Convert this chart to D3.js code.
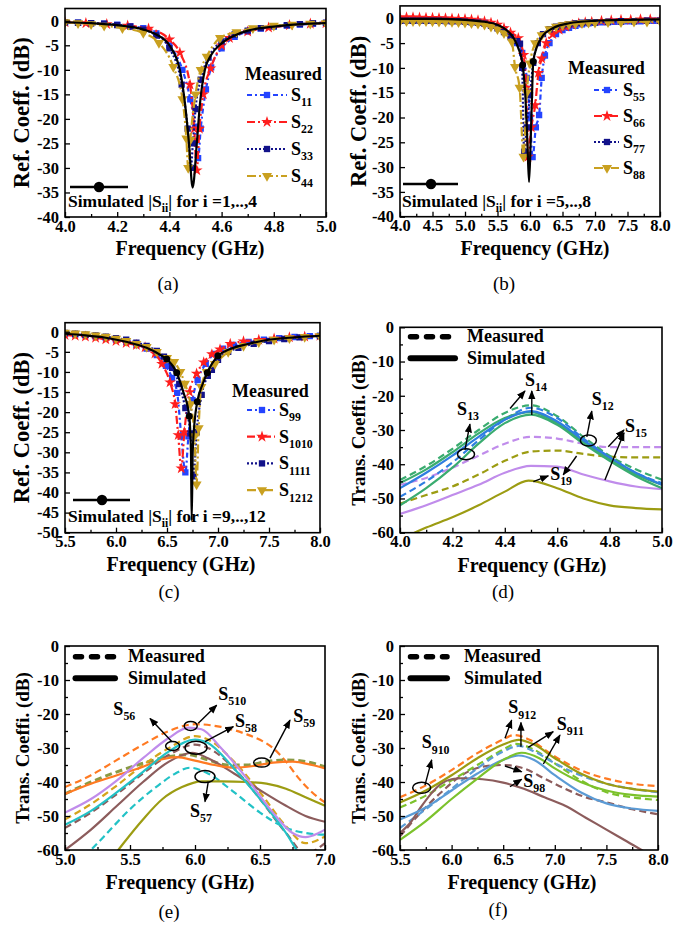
<!DOCTYPE html>
<html>
<head>
<meta charset="utf-8">
<script src="https://cdn.jsdelivr.net/npm/d3@7"></script>
<style>
  body { margin: 0; background: #fff; }
</style>
</head>
<body>
<svg id="chart" width="673" height="927"></svg>
<script>
// ---------- tick labels ----------
const aXTicks = [4.0, 4.2, 4.4, 4.6, 4.8, 5.0];
const rYTicks = [0, -5, -10, -15, -20, -25, -30, -35, -40];
const bXTicks = [4.0, 4.5, 5.0, 5.5, 6.0, 6.5, 7.0, 7.5, 8.0];
const cXTicks = [5.5, 6.0, 6.5, 7.0, 7.5, 8.0];
const cYTicks = [0, -5, -10, -15, -20, -25, -30, -35, -40, -45, -50];
const tYTicks = [0, -10, -20, -30, -40, -50, -60];
const eXTicks = [5.0, 5.5, 6.0, 6.5, 7.0];

// ---------- (a) reflection 1..4 ----------
const aSim = [[4.0,-0.3],[4.1,-0.5],[4.2,-0.9],[4.3,-1.8],[4.35,-2.8],[4.4,-5],[4.44,-10],[4.46,-17],[4.475,-25],[4.489,-34],[4.505,-25],[4.517,-17],[4.536,-10],[4.56,-7],[4.6,-4.6],[4.65,-3],[4.7,-2],[4.8,-1.2],[4.9,-0.7],[5.0,-0.5]];
const aS11 = [[4.0,-0.3],[4.05,-0.4],[4.1,-0.5],[4.15,-0.6],[4.2,-0.8],[4.25,-1.1],[4.3,-1.5],[4.35,-2.6],[4.4,-5],[4.45,-10],[4.48,-16],[4.498,-21.6],[4.51,-28],[4.52,-22],[4.54,-14],[4.56,-9.5],[4.6,-5.6],[4.65,-3.3],[4.7,-2.2],[4.75,-1.6],[4.8,-1.2],[4.85,-1],[4.9,-0.8],[4.95,-0.6],[5.0,-0.5]];
const aS22 = [[4.0,-0.3],[4.08,-0.5],[4.16,-0.7],[4.24,-1.0],[4.32,-1.6],[4.4,-3.8],[4.44,-6.5],[4.479,-13],[4.495,-22],[4.505,-30.5],[4.515,-22],[4.53,-15],[4.558,-9.7],[4.6,-5],[4.63,-3.5],[4.7,-2.2],[4.78,-1.4],[4.86,-0.9],[4.94,-0.6],[5.0,-0.5]];
const aS33 = [[4.0,-0.3],[4.05,-0.4],[4.1,-0.5],[4.15,-0.6],[4.2,-0.9],[4.25,-1.2],[4.3,-1.8],[4.35,-3],[4.4,-5.6],[4.447,-13],[4.47,-22],[4.482,-30],[4.49,-25],[4.5,-18],[4.52,-12],[4.55,-7.5],[4.6,-4.2],[4.65,-2.8],[4.7,-2],[4.75,-1.5],[4.8,-1.1],[4.85,-0.9],[4.9,-0.7],[4.95,-0.5],[5.0,-0.4]];
const aS44 = [[4.0,-0.3],[4.05,-0.5],[4.1,-0.7],[4.15,-1],[4.22,-1.5],[4.3,-2.5],[4.36,-4.5],[4.415,-9.4],[4.45,-16],[4.465,-24],[4.472,-30],[4.48,-24.3],[4.5,-15],[4.52,-10],[4.543,-7.3],[4.594,-3.5],[4.657,-2.3],[4.72,-1.5],[4.8,-1],[4.87,-0.8],[4.94,-0.6],[5.0,-0.5]];

// ---------- (b) reflection 5..8 ----------
const bSim = [[4.0,-0.1],[4.5,-0.1],[5.0,-0.3],[5.3,-0.7],[5.5,-1.3],[5.65,-2.5],[5.75,-4],[5.82,-6],[5.887,-9.4],[5.93,-16],[5.96,-25],[5.985,-33],[6.01,-25],[6.03,-16],[6.05,-8.7],[6.1,-6],[6.2,-3.5],[6.35,-2],[6.6,-1],[7.0,-0.5],[7.5,-0.3],[8.0,-0.2]];
const bSimMarks = [[5.887,-9.4],[6.05,-8.7]];
const bS55 = [[4.0,-0.3],[4.1,-0.3],[4.2,-0.3],[4.3,-0.3],[4.4,-0.3],[4.5,-0.3],[4.6,-0.3],[4.7,-0.35],[4.8,-0.4],[4.9,-0.4],[5.0,-0.5],[5.1,-0.6],[5.2,-0.7],[5.3,-0.9],[5.4,-1.2],[5.5,-1.6],[5.6,-2.2],[5.7,-3.2],[5.8,-5],[5.88,-7],[5.95,-12],[6.0,-20],[6.04,-28],[6.09,-22],[6.14,-19.5],[6.18,-12],[6.23,-7.5],[6.3,-5],[6.4,-3.2],[6.5,-2.4],[6.6,-1.9],[6.7,-1.5],[6.8,-1.2],[6.9,-1],[7.0,-0.9],[7.1,-0.8],[7.2,-0.8],[7.3,-0.7],[7.4,-0.7],[7.5,-0.6],[7.6,-0.6],[7.7,-0.6],[7.8,-0.5],[7.9,-0.5],[8.0,-0.5]];
const bS66 = [[4.0,0.2],[4.1,0.2],[4.2,0.2],[4.3,0.15],[4.4,0.1],[4.5,0.1],[4.6,0.05],[4.7,0],[4.8,-0.05],[4.9,-0.1],[5.0,-0.15],[5.1,-0.25],[5.2,-0.4],[5.3,-0.6],[5.4,-0.9],[5.5,-1.3],[5.6,-2],[5.7,-2.9],[5.82,-4],[5.9,-7.4],[5.94,-14],[5.97,-27.9],[6.02,-22],[6.08,-17.5],[6.13,-11],[6.18,-8.1],[6.25,-5],[6.35,-3.2],[6.45,-2.3],[6.55,-1.7],[6.65,-1.3],[6.75,-1],[6.85,-0.8],[6.95,-0.7],[7.1,-0.5],[7.25,-0.4],[7.4,-0.3],[7.55,-0.3],[7.7,-0.2],[7.85,-0.2],[8.0,-0.2]];
const bS77 = [[4.0,-0.5],[4.1,-0.5],[4.2,-0.5],[4.3,-0.5],[4.4,-0.5],[4.5,-0.5],[4.6,-0.5],[4.7,-0.55],[4.8,-0.6],[4.9,-0.6],[5.0,-0.7],[5.1,-0.8],[5.2,-0.9],[5.3,-1.1],[5.4,-1.5],[5.5,-2],[5.6,-2.8],[5.7,-3.8],[5.8,-4.6],[5.846,-5.1],[5.88,-10],[5.91,-26.9],[5.95,-22],[6.0,-15.5],[6.05,-9],[6.12,-5],[6.2,-3.2],[6.3,-2.2],[6.4,-1.7],[6.5,-1.4],[6.6,-1.2],[6.7,-1],[6.8,-0.9],[6.9,-0.8],[7.0,-0.8],[7.2,-0.7],[7.4,-0.6],[7.6,-0.6],[7.8,-0.5],[8.0,-0.5]];
const bS88 = [[4.0,-0.6],[4.1,-0.6],[4.2,-0.6],[4.3,-0.6],[4.4,-0.6],[4.5,-0.65],[4.6,-0.7],[4.7,-0.7],[4.8,-0.75],[4.9,-0.8],[5.0,-0.9],[5.1,-1],[5.2,-1.1],[5.3,-1.3],[5.4,-1.7],[5.5,-2.2],[5.6,-3],[5.72,-4.7],[5.77,-9.8],[5.84,-14],[5.9,-27.9],[5.95,-15],[6.0,-9.1],[6.08,-5],[6.18,-3.4],[6.3,-2.2],[6.4,-1.7],[6.5,-1.4],[6.6,-1.2],[6.7,-1.1],[6.8,-1],[6.9,-0.9],[7.0,-0.9],[7.2,-0.8],[7.4,-0.8],[7.6,-0.7],[7.8,-0.7],[8.0,-0.6]];

// ---------- (c) reflection 9..12 ----------
const cSim = [[5.5,-0.5],[5.7,-0.9],[5.9,-1.5],[6.1,-2.5],[6.3,-4],[6.45,-6],[6.497,-6.8],[6.595,-10.2],[6.66,-15],[6.718,-21],[6.735,-30],[6.742,-47],[6.752,-30],[6.772,-22],[6.797,-17.4],[6.85,-13],[6.895,-10.2],[7.0,-6],[7.1,-4.5],[7.3,-3],[7.5,-2],[7.75,-1.4],[8.0,-1]];
const cSimMarks = [[6.497,-6.8],[6.595,-10.2],[6.718,-21],[6.797,-17.4],[6.895,-10.2],[7.0,-6]];
const cS99 = [[5.5,-0.5],[5.6,-0.7],[5.7,-0.9],[5.8,-1.2],[5.9,-1.6],[6.0,-2],[6.1,-2.6],[6.2,-3.3],[6.3,-4.2],[6.4,-5.8],[6.49,-8.5],[6.55,-11.5],[6.6,-15.2],[6.64,-26],[6.68,-35],[6.71,-26],[6.75,-17],[6.8,-12],[6.88,-8],[6.96,-5.5],[7.05,-4.2],[7.15,-3.3],[7.3,-2.5],[7.45,-2],[7.6,-1.6],[7.75,-1.3],[7.9,-1.1],[8.0,-1]];
const cS1010 = [[5.5,-0.8],[5.6,-1],[5.7,-1.2],[5.8,-1.5],[5.9,-1.9],[6.0,-2.3],[6.1,-2.8],[6.2,-3.3],[6.285,-3.9],[6.382,-5.4],[6.45,-8],[6.53,-12.6],[6.58,-18],[6.61,-25.7],[6.64,-34],[6.67,-25],[6.72,-15],[6.79,-10.4],[6.86,-7.6],[6.94,-5.6],[7.02,-4.4],[7.12,-3],[7.25,-2.4],[7.4,-2],[7.55,-1.7],[7.7,-1.4],[7.85,-1.2],[8.0,-1]];
const cS1111 = [[5.5,-0.3],[5.6,-0.5],[5.7,-0.7],[5.8,-0.9],[5.9,-1.2],[6.0,-1.6],[6.1,-2],[6.2,-2.7],[6.3,-3.5],[6.4,-4.8],[6.47,-6.2],[6.55,-9],[6.62,-13],[6.68,-19],[6.73,-25.3],[6.76,-36],[6.79,-25],[6.84,-15.7],[6.9,-11],[6.94,-9.5],[7.0,-7],[7.1,-5],[7.2,-4],[7.35,-3],[7.5,-2.3],[7.65,-1.8],[7.8,-1.4],[8.0,-1.1]];
const cS1212 = [[5.5,-0.2],[5.6,-0.4],[5.7,-0.6],[5.8,-0.9],[5.9,-1.2],[6.0,-1.7],[6.1,-2.3],[6.2,-3],[6.3,-3.8],[6.4,-5],[6.5,-6.5],[6.57,-7.5],[6.63,-10],[6.676,-12.9],[6.73,-18],[6.77,-26],[6.79,-38],[6.81,-24],[6.836,-13.7],[6.89,-10],[6.97,-8],[7.1,-5],[7.25,-3.5],[7.4,-2.6],[7.55,-2],[7.7,-1.6],[7.85,-1.3],[8.0,-1.1]];

// ---------- (d) transmission from port 1 ----------
const dS14m = [[4.0,-44.6],[4.1,-40.5],[4.2,-35.5],[4.3,-30],[4.4,-25],[4.5,-22.8],[4.6,-26],[4.7,-32],[4.8,-37.5],[4.9,-41.5],[5.0,-44.5]];
const dS12m = [[4.0,-49.5],[4.1,-45],[4.2,-39.5],[4.3,-33],[4.4,-27],[4.5,-23.5],[4.6,-26.5],[4.7,-32.5],[4.8,-38],[4.9,-42.5],[5.0,-45.5]];
const dS14s = [[4.0,-45.5],[4.1,-41.5],[4.2,-36.5],[4.3,-31],[4.4,-26.5],[4.5,-24.8],[4.6,-28],[4.7,-33.5],[4.8,-38.5],[4.9,-43],[5.0,-46]];
const dS12s = [[4.0,-47],[4.1,-42.5],[4.2,-37.5],[4.3,-32],[4.4,-27],[4.5,-24.5],[4.6,-27.5],[4.7,-33],[4.8,-38],[4.9,-42.5],[5.0,-46]];
const dS13s = [[4.0,-52],[4.1,-47],[4.2,-41],[4.3,-34],[4.4,-28],[4.5,-25.5],[4.6,-28.5],[4.7,-34],[4.8,-39],[4.9,-43.5],[5.0,-47]];
const dS15m = [[4.0,-46],[4.1,-44],[4.2,-41],[4.3,-37.5],[4.4,-34],[4.5,-32],[4.6,-32.5],[4.7,-34],[4.8,-35],[4.9,-35],[5.0,-35]];
const dS19m = [[4.0,-51.5],[4.1,-49],[4.2,-46.5],[4.3,-43],[4.4,-39],[4.5,-36.3],[4.6,-36],[4.7,-37],[4.8,-37.8],[4.9,-38],[5.0,-38]];
const dS15s = [[4.0,-54.5],[4.1,-52],[4.2,-49],[4.3,-46],[4.4,-42.5],[4.5,-40.5],[4.6,-40.7],[4.7,-43],[4.8,-45],[4.9,-46.5],[5.0,-47.3]];
const dS19s = [[4.0,-62],[4.1,-58.5],[4.2,-55.5],[4.3,-52],[4.4,-48],[4.49,-44.8],[4.6,-47],[4.7,-50],[4.8,-52],[4.9,-52.8],[5.0,-53.2]];

// ---------- (e) transmission from port 5 ----------
const eS510m = [[5.0,-41.5],[5.2,-38],[5.4,-33.5],[5.6,-29],[5.8,-25],[6.0,-23],[6.2,-23.8],[6.4,-26],[6.5,-27.6],[6.6,-30],[6.7,-34],[6.8,-39],[6.9,-43],[7.0,-46]];
const eS510s = [[5.0,-49],[5.2,-45],[5.4,-39.5],[5.6,-33],[5.8,-27],[5.95,-24],[6.05,-24.5],[6.2,-30],[6.4,-39],[6.6,-49],[6.75,-55],[6.85,-56.2],[6.95,-55],[7.0,-54]];
const eS58s = [[5.0,-52.6],[5.2,-48.5],[5.4,-43],[5.6,-37],[5.8,-31],[6.0,-27.5],[6.1,-28.5],[6.3,-36],[6.5,-45],[6.7,-55],[6.8,-61],[6.9,-65]];
const eS58m = [[5.0,-51],[5.2,-46.5],[5.4,-41],[5.6,-35],[5.8,-30],[6.0,-26.5],[6.1,-27.5],[6.3,-34],[6.5,-43],[6.7,-53],[6.85,-58],[7.0,-56]];
const eS56m = [[5.0,-53.5],[5.2,-49],[5.4,-43.5],[5.6,-37.5],[5.8,-32],[6.0,-29],[6.1,-30],[6.3,-36],[6.5,-45],[6.7,-55],[6.85,-61],[7.0,-58]];
const eS56s = [[5.0,-60],[5.2,-54],[5.4,-47],[5.6,-40],[5.8,-34],[5.98,-31.4],[6.1,-33],[6.3,-37.5],[6.5,-42.4],[6.7,-47],[6.85,-50],[7.0,-51.7]];
const eS59m = [[5.0,-43.5],[5.2,-40],[5.4,-37],[5.6,-34.5],[5.8,-32.5],[5.95,-32],[6.1,-33.5],[6.25,-35],[6.4,-35],[6.55,-34],[6.7,-33.5],[6.85,-34],[7.0,-35.5]];
const eS59s = [[5.0,-43.5],[5.2,-40.5],[5.4,-38],[5.6,-35.5],[5.75,-33.3],[5.86,-32.7],[6.0,-33.7],[6.15,-35],[6.3,-35.8],[6.45,-35.3],[6.6,-34.3],[6.75,-34],[6.9,-35],[7.0,-36]];
const eS57m = [[5.15,-62],[5.3,-56],[5.5,-48],[5.7,-41.5],[5.85,-37.5],[5.96,-35.8],[6.1,-37.5],[6.3,-43],[6.5,-49],[6.7,-53.5],[6.85,-55],[7.0,-55.5]];
const eS57s = [[5.35,-63],[5.45,-58],[5.6,-51],[5.75,-45],[5.9,-41.5],[6.05,-39.8],[6.2,-39.8],[6.4,-40],[6.55,-40.5],[6.7,-42],[6.85,-44.5],[7.0,-47]];

// ---------- (f) transmission from port 9 ----------
const fS910m = [[5.5,-44.5],[5.75,-41],[6.0,-36.5],[6.25,-31.5],[6.5,-27.5],[6.6,-26.2],[6.75,-27.5],[7.0,-32.5],[7.25,-36.5],[7.5,-39],[7.75,-40.5],[8.0,-41.2]];
const fS910s = [[5.5,-46],[5.75,-42.5],[6.0,-38],[6.25,-33],[6.5,-29],[6.65,-27.6],[6.8,-29],[7.0,-33],[7.25,-37.5],[7.5,-40.5],[7.75,-42],[8.0,-42.8]];
const fS911m = [[5.5,-47.5],[5.75,-44],[6.0,-39.5],[6.25,-35],[6.5,-30.5],[6.62,-28.8],[6.8,-30.5],[7.0,-34.5],[7.25,-39.5],[7.5,-43],[7.75,-44.5],[8.0,-45.3]];
const fS912m = [[5.5,-53.5],[5.75,-48],[6.0,-42],[6.25,-36],[6.5,-31],[6.65,-29.4],[6.8,-31],[7.0,-34.5],[7.25,-38],[7.5,-40.5],[7.75,-42],[8.0,-43]];
const fS911s = [[5.5,-57],[5.75,-51.5],[6.0,-45],[6.25,-39],[6.5,-33.5],[6.68,-31.4],[6.85,-33],[7.0,-36],[7.25,-40],[7.5,-42.5],[7.75,-43.8],[8.0,-44.3]];
const fS912s = [[5.5,-51],[5.75,-47.5],[6.0,-42.5],[6.25,-37.5],[6.5,-33.5],[6.65,-32.2],[6.8,-33.5],[7.0,-38],[7.25,-43],[7.5,-46.3],[7.75,-47.8],[8.0,-48.5]];
const fS98m = [[5.5,-56],[5.7,-49],[5.9,-43],[6.1,-38],[6.3,-35.5],[6.5,-35],[6.7,-36],[6.9,-39],[7.1,-42],[7.3,-44.5],[7.5,-46],[7.75,-48],[8.0,-49.5]];
const fS98s = [[5.5,-55],[5.6,-52],[5.7,-47.5],[5.8,-43.5],[5.9,-40.5],[6.0,-39.2],[6.1,-38.9],[6.3,-39.2],[6.5,-40.2],[6.7,-42],[6.9,-44.5],[7.1,-47],[7.3,-50.5],[7.5,-54],[7.7,-57.5],[7.9,-61],[8.0,-62.5]];

// ---------- colours ----------
const C = {
  blue: '#2444ff', red: '#ff1e1e', navy: '#12128a', gold: '#c9a020',
  green: '#3aac70', tblue: '#2f7ee0', purple: '#c08ceb', olive: '#9c9c12',
  orange: '#ff7a22', cyan: '#22c2c6', brown: '#8c5c5c', sage: '#8a9a44',
  lgreen: '#7cc22c', lblue: '#5b9bd5', dgold: '#d4a41c'
};
const DASH = '7,4';
const FONT = "'Liberation Serif', 'Times New Roman', Times, serif";

const panels = [
  { id: 'a', L: 65, R: 326, T: 8.5, B: 217, xd: [4, 5], yd: [-40, 2.5], xTicks: aXTicks, yTicks: rYTicks, yMinor: false,
    ytitle: 'Ref. Coeff. (dB)', ytSize: 22.5, ytx: 21, xtx: 190, xty: 255, cap: '(a)', capx: 168, capy: 290,
    sim: aSim, simMarks: [],
    series: [
      { data: aS11, color: C.blue, dash: '5,3,2,3', marker: 'square', sub: '11' },
      { data: aS22, color: C.red, dash: '8,3,2,3', marker: 'star', sub: '22' },
      { data: aS33, color: C.navy, dash: '2,2', marker: 'square', sub: '33' },
      { data: aS44, color: C.gold, dash: '9,3,2,3', marker: 'tri', sub: '44' }
    ],
    leg: { mx: 245, my: 80, row0: 95, dy: 27, l0: 247, l1: 287, mk: 267, tx: 291 },
    simLeg: { l0: 70, l1: 128, y: 187, cx: 99, tx: 68, ty: 207, txt: '=1,..,4' } },
  { id: 'b', L: 400, R: 660, T: 5.9, B: 216.7, xd: [4, 8], yd: [-40, 2.5], xTicks: bXTicks, yTicks: rYTicks, yMinor: false,
    ytitle: 'Ref. Coeff. (dB)', ytSize: 22.5, ytx: 358, xtx: 535, xty: 255, cap: '(b)', capx: 504, capy: 290,
    sim: bSim, simMarks: bSimMarks,
    series: [
      { data: bS55, color: C.blue, dash: '5,3,2,3', marker: 'square', sub: '55' },
      { data: bS66, color: C.red, dash: '8,3,2,3', marker: 'star', sub: '66' },
      { data: bS77, color: C.navy, dash: '2,2', marker: 'square', sub: '77' },
      { data: bS88, color: C.gold, dash: '9,3,2,3', marker: 'tri', sub: '88' }
    ],
    leg: { mx: 568, my: 74, row0: 90, dy: 26, l0: 594, l1: 619, mk: 607, tx: 623 },
    simLeg: { l0: 403, l1: 458, y: 184, cx: 431, tx: 402, ty: 207, txt: '=5,..,8' } },
  { id: 'c', L: 65, R: 320, T: 322.7, B: 532.7, xd: [5.5, 8], yd: [-50, 2.25], xTicks: cXTicks, yTicks: cYTicks, yMinor: false,
    ytitle: 'Ref. Coeff. (dB)', ytSize: 22.5, ytx: 21, xtx: 181, xty: 571, cap: '(c)', capx: 169, capy: 598,
    sim: cSim, simMarks: cSimMarks,
    series: [
      { data: cS99, color: C.blue, dash: '5,3,2,3', marker: 'square', sub: '99' },
      { data: cS1010, color: C.red, dash: '8,3,2,3', marker: 'star', sub: '1010' },
      { data: cS1111, color: C.navy, dash: '2,2', marker: 'square', sub: '1111' },
      { data: cS1212, color: C.gold, dash: '9,3,2,3', marker: 'tri', sub: '1212' }
    ],
    leg: { mx: 232, my: 397, row0: 410, dy: 26.7, l0: 247, l1: 275, mk: 262, tx: 279 },
    simLeg: { l0: 73, l1: 130, y: 500, cx: 102, tx: 68, ty: 522, txt: '=9,..,12' } },
  { id: 'd', L: 400, R: 662, T: 327.3, B: 532.7, xd: [4, 5], yd: [-60, 0], xTicks: aXTicks, yTicks: tYTicks, yMinor: true,
    ytitle: 'Trans. Coeffi. (dB)', ytSize: 19, ytx: 358, xtx: 532, xty: 572, cap: '(d)', capx: 503, capy: 598,
    series: [
      { data: dS15m, color: C.purple, dash: DASH },
      { data: dS19m, color: C.olive, dash: DASH },
      { data: dS15s, color: C.purple },
      { data: dS19s, color: C.olive },
      { data: dS14m, color: C.green, dash: DASH },
      { data: dS12m, color: C.tblue, dash: DASH },
      { data: dS13s, color: C.green },
      { data: dS14s, color: C.green },
      { data: dS12s, color: C.tblue }
    ],
    tleg: { l0: 408, l1: 455, y1: 336.7, y2: 358.3, tx: 467, ty1: 342, ty2: 364 },
    ellipses: [[4.252, -37.1, 8.5, 5.5], [4.719, -33.1, 8, 5.5]],
    arrows: [[4.248, -35.8, 4.267, -28.3], [4.42, -23.7, 4.477, -18.6], [4.503, -25.6, 4.503, -18.6],
             [4.713, -32, 4.732, -24.5], [4.795, -34.9, 4.855, -30], [4.782, -44.6, 4.855, -30.8],
             [4.674, -37.6, 4.623, -43.1], [4.509, -45.1, 4.566, -43.4]],
    labels: [[4.218, -25.6, '13'], [4.477, -17.1, '14'], [4.732, -22.7, '12'], [4.859, -30.5, '15'], [4.573, -44.6, '19']] },
  { id: 'e', L: 65, R: 325, T: 646, B: 850, xd: [5, 7], yd: [-60, 0], xTicks: eXTicks, yTicks: tYTicks, yMinor: true,
    ytitle: 'Trans. Coeffi. (dB)', ytSize: 19, ytx: 22, xtx: 180, xty: 889, cap: '(e)', capx: 169, capy: 918,
    series: [
      { data: eS510m, color: C.orange, dash: DASH },
      { data: eS59m, color: C.sage, dash: DASH, width: 3 },
      { data: eS58m, color: C.dgold, dash: DASH },
      { data: eS56m, color: C.brown, dash: DASH },
      { data: eS57m, color: C.cyan, dash: DASH },
      { data: eS56s, color: C.brown },
      { data: eS57s, color: C.olive },
      { data: eS59s, color: C.orange },
      { data: eS58s, color: C.cyan },
      { data: eS510s, color: C.purple }
    ],
    tleg: { l0: 73, l1: 115, y1: 656.7, y2: 678.3, tx: 128, ty1: 662, ty2: 684 },
    ellipses: [[5.967, -23.5, 6.5, 4.5], [5.828, -29.4, 7, 4.5], [6.008, -29.9, 11, 6.5], [6.513, -34.3, 8, 4.5], [6.077, -38.4, 10, 6]],
    arrows: [[5.821, -28.1, 5.654, -21.3], [6.025, -22.7, 6.167, -17.4], [6.077, -28.1, 6.295, -23.7],
             [6.577, -33, 6.731, -21.8], [6.102, -39.9, 6.077, -45.8]],
    labels: [[5.372, -20.3, '56'], [6.179, -15.9, '510'], [6.308, -23.7, '58'], [6.756, -22.3, '59'], [5.962, -50.2, '57']] },
  { id: 'f', L: 400, R: 658, T: 646, B: 850, xd: [5.5, 8], yd: [-60, 0], xTicks: cXTicks, yTicks: tYTicks, yMinor: true,
    ytitle: 'Trans. Coeffi. (dB)', ytSize: 19, ytx: 358, xtx: 522, xty: 889, cap: '(f)', capx: 498, capy: 916,
    series: [
      { data: fS98m, color: C.brown, dash: DASH },
      { data: fS910m, color: C.orange, dash: DASH },
      { data: fS911m, color: C.lgreen, dash: DASH },
      { data: fS912m, color: C.lblue, dash: DASH },
      { data: fS98s, color: C.brown },
      { data: fS912s, color: C.lblue },
      { data: fS911s, color: C.lgreen },
      { data: fS910s, color: C.olive }
    ],
    tleg: { l0: 408, l1: 447, y1: 656.7, y2: 678.3, tx: 464, ty1: 662, ty2: 684 },
    ellipses: [[5.71, -41.7, 9, 5.5]],
    arrows: [[5.742, -40.9, 5.807, -33.5], [6.517, -27.1, 6.582, -21.8], [6.672, -29.6, 6.672, -22.5],
             [6.743, -29.8, 6.985, -25.2], [6.889, -34.7, 7.05, -26.2], [6.517, -35.3, 6.679, -37], [6.566, -41.4, 6.679, -39.2]],
    labels: [[5.71, -30.1, '910'], [6.549, -19.8, '912'], [7.018, -24.7, '911'], [6.695, -41.4, '98']] }
];

// ---------- drawing ----------
const svg = d3.select('#chart').attr('font-family', FONT);
const defs = svg.append('defs');
defs.append('marker').attr('id', 'arr').attr('viewBox', '0 0 10 10')
  .attr('refX', 9).attr('refY', 5).attr('markerWidth', 6.5).attr('markerHeight', 6.5)
  .attr('orient', 'auto')
  .append('path').attr('d', 'M0,1 L10,5 L0,9 z').attr('fill', '#000');

function symbolPath(kind) {
  if (kind === 'square') return d3.symbol().type(d3.symbolSquare).size(40)();
  if (kind === 'star') return d3.symbol().type(d3.symbolStar).size(42)();
  return d3.symbol().type(d3.symbolTriangle).size(44)();
}

function sText(g, x, y, sub, size) {
  const t = g.append('text').attr('x', x).attr('y', y).attr('font-family', FONT)
    .attr('font-size', size).attr('font-weight', 'bold');
  t.append('tspan').text('S');
  t.append('tspan').attr('dy', size * 0.3).attr('font-size', size * 0.66).text(sub);
  return t;
}

function drawPanel(p) {
  const g = svg.append('g');
  const x = d3.scaleLinear().domain(p.xd).range([p.L, p.R]);
  const y = d3.scaleLinear().domain(p.yd).range([p.B, p.T]);
  defs.append('clipPath').attr('id', 'clip-' + p.id).append('rect')
    .attr('x', p.L).attr('y', p.T).attr('width', p.R - p.L).attr('height', p.B - p.T);

  const line = d3.line().x(d => x(d[0])).y(d => y(d[1])).curve(d3.curveMonotoneX);
  const plot = g.append('g').attr('clip-path', `url(#clip-${p.id})`);

  p.series.forEach(s => {
    plot.append('path').datum(s.data).attr('d', line)
      .attr('fill', 'none').attr('stroke', s.color)
      .attr('stroke-width', s.width || 2.2)
      .attr('stroke-dasharray', s.dash || null);
    if (s.marker) {
      const sym = symbolPath(s.marker);
      plot.selectAll(null).data(s.data).join('path')
        .attr('d', sym).attr('fill', s.color)
        .attr('transform', d => `translate(${x(d[0])},${y(d[1])})` + (s.marker === 'tri' ? ' rotate(180)' : ''));
    }
  });

  if (p.sim) {
    plot.append('path').datum(p.sim).attr('d', line)
      .attr('fill', 'none').attr('stroke', '#000').attr('stroke-width', 2.2);
    plot.selectAll(null).data(p.simMarks).join('circle')
      .attr('cx', d => x(d[0])).attr('cy', d => y(d[1])).attr('r', 3.5).attr('fill', '#000');
  }

  // axes (inward ticks)
  const mid = arr => arr.slice(1).map((v, i) => (v + arr[i]) / 2);
  const xa = g.append('g').attr('transform', `translate(0,${p.B})`)
    .call(d3.axisBottom(x).tickValues(p.xTicks).tickSize(-5).tickSizeOuter(0).tickPadding(3)
      .tickFormat(d => d.toFixed(1)));
  g.append('g').attr('transform', `translate(0,${p.B})`)
    .call(d3.axisBottom(x).tickValues(mid(p.xTicks)).tickSize(-3).tickSizeOuter(0).tickFormat(''))
    .call(a => a.select('.domain').remove());
  const ya = g.append('g').attr('transform', `translate(${p.L},0)`)
    .call(d3.axisLeft(y).tickValues(p.yTicks).tickSize(-5).tickSizeOuter(0).tickPadding(6)
      .tickFormat(d => String(d)));
  if (p.yMinor) {
    g.append('g').attr('transform', `translate(${p.L},0)`)
      .call(d3.axisLeft(y).tickValues(mid(p.yTicks)).tickSize(-3).tickSizeOuter(0).tickFormat(''))
      .call(a => a.select('.domain').remove());
  }
  [xa, ya].forEach(a => {
    a.attr('font-family', FONT).attr('font-size', 16.5);
    a.select('.domain').remove();
    a.selectAll('text').attr('font-family', FONT).attr('font-size', 16.5)
      .attr('font-weight', 'bold').attr('fill', '#000');
  });
  g.selectAll('.tick line').attr('stroke', '#000').attr('stroke-width', 1.3);

  g.append('rect').attr('x', p.L).attr('y', p.T).attr('width', p.R - p.L).attr('height', p.B - p.T)
    .attr('fill', 'none').attr('stroke', '#000').attr('stroke-width', 1.6);

  // titles
  g.append('text').attr('x', p.xtx).attr('y', p.xty).attr('text-anchor', 'middle').attr('font-family', FONT)
    .attr('font-size', 20).attr('font-weight', 'bold').text('Frequency (GHz)');
  g.append('text').attr('transform', `translate(${p.ytx},${(p.T + p.B) / 2}) rotate(-90)`)
    .attr('text-anchor', 'middle').attr('dominant-baseline', 'central').attr('font-family', FONT)
    .attr('font-size', p.ytSize).attr('font-weight', 'bold').text(p.ytitle);
  g.append('text').attr('x', p.capx).attr('y', p.capy).attr('text-anchor', 'middle').attr('font-family', FONT)
    .attr('font-size', 19).text(p.cap);

  // reflection legends
  if (p.leg) {
    const L = p.leg;
    g.append('text').attr('x', L.mx).attr('y', L.my).attr('font-size', 18).attr('font-family', FONT)
      .attr('font-weight', 'bold').text('Measured');
    p.series.forEach((s, i) => {
      const yy = L.row0 + i * L.dy;
      g.append('line').attr('x1', L.l0).attr('x2', L.l1).attr('y1', yy).attr('y2', yy)
        .attr('stroke', s.color).attr('stroke-width', 2.2).attr('stroke-dasharray', s.dash);
      g.append('path').attr('d', symbolPath(s.marker)).attr('fill', s.color)
        .attr('transform', `translate(${L.mk},${yy})` + (s.marker === 'tri' ? ' rotate(180)' : ''));
      sText(g, L.tx, yy + 6, s.sub, 18);
    });
    const S = p.simLeg;
    g.append('line').attr('x1', S.l0).attr('x2', S.l1).attr('y1', S.y).attr('y2', S.y)
      .attr('stroke', '#000').attr('stroke-width', 2.6);
    g.append('circle').attr('cx', S.cx).attr('cy', S.y).attr('r', 5.2).attr('fill', '#000');
    const t = g.append('text').attr('x', S.tx).attr('y', S.ty).attr('font-family', FONT)
      .attr('font-size', 17.5).attr('font-weight', 'bold');
    t.append('tspan').text('Simulated |S');
    t.append('tspan').attr('dy', 5).attr('font-size', 11.5).text('ii');
    t.append('tspan').attr('dy', -5).text('| for i ' + S.txt);
  }

  // transmission legends
  if (p.tleg) {
    const T = p.tleg;
    g.append('line').attr('x1', T.l0 + 2.5).attr('x2', T.l1).attr('y1', T.y1).attr('y2', T.y1)
      .attr('stroke', '#000').attr('stroke-width', 5.5).attr('stroke-linecap', 'round')
      .attr('stroke-dasharray', '6,10');
    g.append('line').attr('x1', T.l0 + 2.5).attr('x2', T.l1).attr('y1', T.y2).attr('y2', T.y2)
      .attr('stroke', '#000').attr('stroke-width', 6).attr('stroke-linecap', 'round');
    g.append('text').attr('x', T.tx).attr('y', T.ty1).attr('font-family', FONT).attr('font-size', 18)
      .attr('font-weight', 'bold').text('Measured');
    g.append('text').attr('x', T.tx).attr('y', T.ty2).attr('font-family', FONT).attr('font-size', 18)
      .attr('font-weight', 'bold').text('Simulated');
  }

  // annotations
  (p.ellipses || []).forEach(e => {
    g.append('ellipse').attr('cx', x(e[0])).attr('cy', y(e[1])).attr('rx', e[2]).attr('ry', e[3])
      .attr('fill', 'none').attr('stroke', '#000').attr('stroke-width', 1.5);
  });
  (p.arrows || []).forEach(a => {
    g.append('line').attr('x1', x(a[0])).attr('y1', y(a[1])).attr('x2', x(a[2])).attr('y2', y(a[3]))
      .attr('stroke', '#000').attr('stroke-width', 1.4).attr('marker-end', 'url(#arr)');
  });
  (p.labels || []).forEach(l => sText(g, x(l[0]), y(l[1]), l[2], 18));
}

panels.forEach(drawPanel);
</script>
</body>
</html>
